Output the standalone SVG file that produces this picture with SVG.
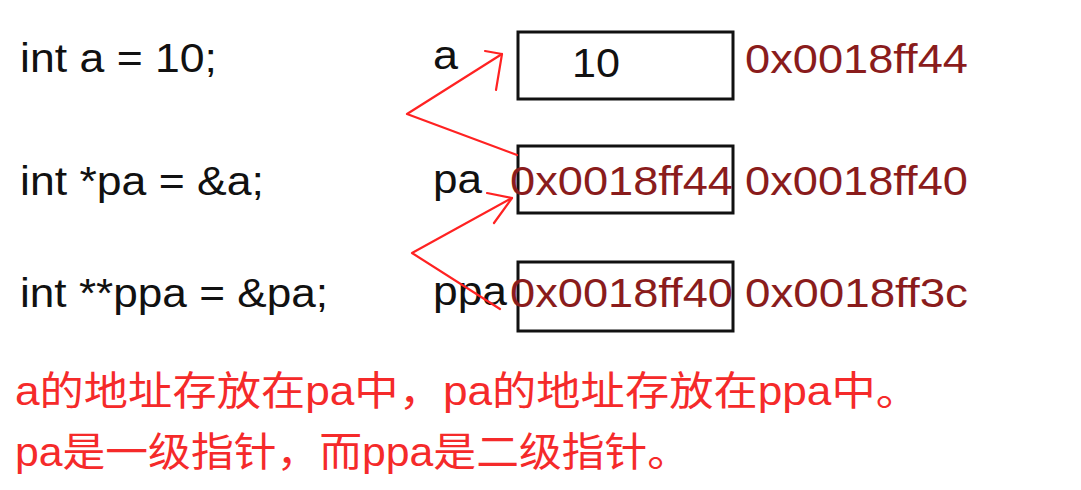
<svg xmlns="http://www.w3.org/2000/svg" width="1081" height="490" viewBox="0 0 1081 490">
<style>
text{font-family:"Liberation Sans",Arial,"Noto Sans CJK SC",sans-serif}
.code{font-size:40px;fill:#111}
.lbl{font-size:40px;fill:#111}
.addr{font-size:41px;fill:#8a1c1c}
.box{fill:none;stroke:#111;stroke-width:3}
.note{font-size:40px;fill:#f52a2a}
.ptr{fill:none;stroke:#f22;stroke-width:2.2;stroke-linecap:round;stroke-linejoin:round}
</style>
<rect width="1081" height="490" fill="#fff"/>
<g id="code">
<text class="code" x="20" y="72" textLength="197" lengthAdjust="spacingAndGlyphs">int a = 10;</text>
<text class="code" x="20" y="195" textLength="244" lengthAdjust="spacingAndGlyphs">int *pa = &amp;a;</text>
<text class="code" x="20" y="307" textLength="308" lengthAdjust="spacingAndGlyphs">int **ppa = &amp;pa;</text>
</g>
<g id="node-a">
<text class="lbl" x="433" y="69" textLength="25" lengthAdjust="spacingAndGlyphs">a</text>
<rect class="box" x="518" y="32" width="215" height="67"/>
<text class="lbl" x="572" y="77" textLength="48" lengthAdjust="spacingAndGlyphs">10</text>
<text class="addr" x="745" y="73" textLength="223" lengthAdjust="spacingAndGlyphs">0x0018ff44</text>
</g>
<g id="node-pa">
<text class="lbl" x="433" y="193" textLength="49" lengthAdjust="spacingAndGlyphs">pa</text>
<rect class="box" x="518" y="146" width="215" height="67"/>
<text class="addr" x="510" y="195" textLength="223" lengthAdjust="spacingAndGlyphs">0x0018ff44</text>
<text class="addr" x="745" y="195" textLength="223" lengthAdjust="spacingAndGlyphs">0x0018ff40</text>
</g>
<g id="node-ppa">
<text class="lbl" x="433" y="305" textLength="74" lengthAdjust="spacingAndGlyphs">ppa</text>
<rect class="box" x="518" y="262" width="215" height="69"/>
<text class="addr" x="510" y="307" textLength="223" lengthAdjust="spacingAndGlyphs">0x0018ff40</text>
<text class="addr" x="745" y="307" textLength="223" lengthAdjust="spacingAndGlyphs">0x0018ff3c</text>
</g>
<g id="connectors">
<polyline class="ptr" points="517,155 407,114 502,54"/>
<polyline class="ptr" points="485,51 502,54 496,90"/>
<polyline class="ptr" points="500,309 412,253 512,198"/>
<polyline class="ptr" points="487,193 512,198 494,223"/>
</g>
<g id="note">
<text class="note" x="15" y="405" textLength="905" lengthAdjust="spacingAndGlyphs">a的地址存放在pa中，pa的地址存放在ppa中。</text>
<text class="note" x="15" y="466" textLength="675" lengthAdjust="spacingAndGlyphs">pa是一级指针，而ppa是二级指针。</text>
</g>
</svg>
